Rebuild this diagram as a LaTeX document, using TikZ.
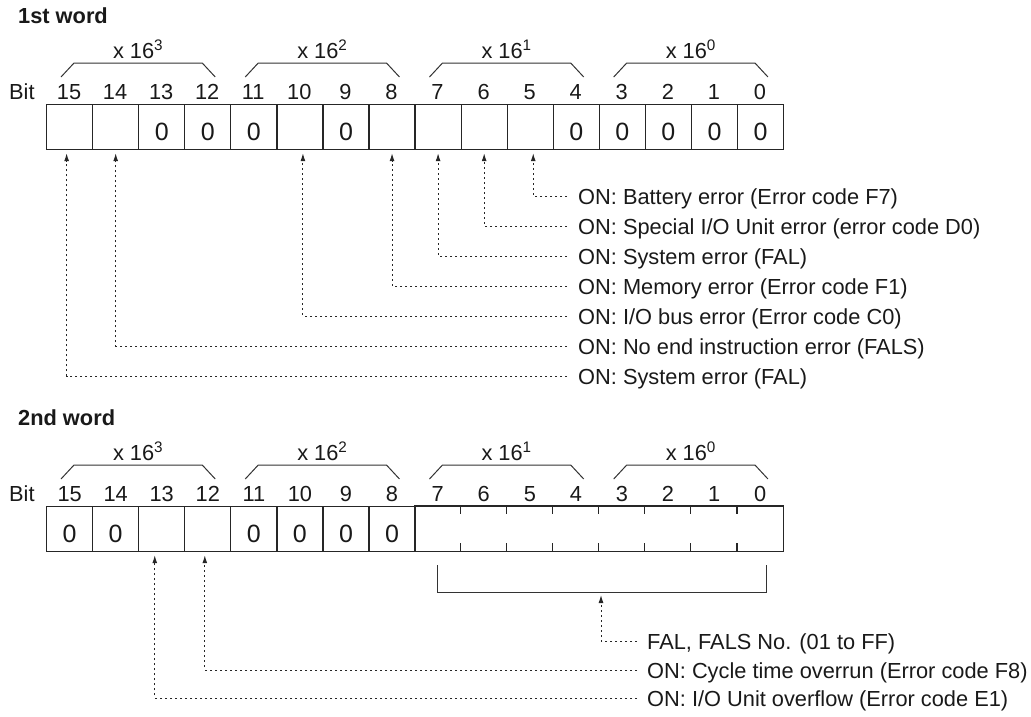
\documentclass[tikz,border=0pt]{standalone}
\usepackage{fontspec}
\setmainfont{Liberation Sans}
\usetikzlibrary{arrows.meta}
\begin{document}
\begin{tikzpicture}[x=1pt,y=-1pt,
  txt/.style={font=\fontsize{21.8}{26}\selectfont, text=black!90, inner sep=0pt},
  zerotxt/.style={font=\fontsize{25}{30}\selectfont, text=black!90, inner sep=0pt},
  headtxt/.style={font=\fontsize{21.8}{26}\selectfont\bfseries, text=black!90, inner sep=0pt},
  cellbox/.style={draw=black!85, line width=1.2pt, minimum width=46.06pt, minimum height=45pt, inner sep=0pt, anchor=north west},
  nocell/.style={minimum width=46.06pt, minimum height=45pt, inner sep=0pt, anchor=north west},
  frame/.style={draw=black!85, line width=1.2pt},
  lead/.style={draw=black!85, line width=1pt, dash pattern=on 2pt off 3pt},
  tip/.style={-{Latex[length=8pt,width=5pt]}},
  brace/.style={draw=black!80, line width=1pt},
]
\useasboundingbox (0,0) rectangle (1031,716);

% ---------------- 1st word ----------------
\node[headtxt, anchor=base west] (h1) at (18,23) {1st word};
\node[txt, anchor=base west] (bit1) at (9,99) {Bit};
\foreach \b in {15,...,0}{
  \pgfmathsetmacro\xx{46+(15-\b)*46.06}
  \node[cellbox] (a\b) at (\xx,104) {};
  \node[txt, anchor=base] (na\b) at (\xx+23.03,99) {\b};
}
\foreach \b in {13,12,11,9,4,3,2,1,0}{
  \node[zerotxt, anchor=base] (za\b) at ([yshift=-13.5pt]a\b.center) {0};
}
\foreach \g/\e in {0/3,1/2,2/1,3/0}{
  \pgfmathsetmacro\L{46+4*\g*46.06}
  \pgfmathsetmacro\R{\L+4*46.06}
  \draw[brace] (\L+15,77) -- (\L+28,63) -- (\R-28,63) -- (\R-15,77);
  \node[txt, anchor=base] (xa\g) at ({(\L+\R)/2},58) {x 16\textsuperscript{\e}};
}
\foreach \b/\yy/\sh/\t in {
  5/196/3/{ON: Battery error (Error code F7)},
  6/226/0/{ON: Special I/O Unit error (error code D0)},
  7/256/0/{ON: System error (FAL)},
  8/286/0/{ON: Memory error (Error code F1)},
  10/316/3/{ON: I/O bus error (Error code C0)},
  14/346/0/{ON: No end instruction error (FALS)},
  15/376/-3/{ON: System error (FAL)}}{
  \node[txt, anchor=base west] (ta\b) at (578,\yy+8) {\t};
  \coordinate (ea\b) at (567,\yy);
  \draw[lead,tip] (ea\b) -| ([xshift=\sh pt,yshift=-3pt]a\b.south);
}

% ---------------- 2nd word ----------------
\node[headtxt, anchor=base west] (h2) at (18,425) {2nd word};
\node[txt, anchor=base west] (bit2) at (9,501) {Bit};
\foreach \b in {15,...,8}{
  \pgfmathsetmacro\xx{46+(15-\b)*46.06}
  \node[cellbox] (b\b) at (\xx,506) {};
}
\foreach \b in {7,...,0}{
  \pgfmathsetmacro\xx{46+(15-\b)*46.06}
  \node[nocell] (b\b) at (\xx,506) {};
}
\foreach \b in {15,...,0}{
  \node[txt, anchor=base] (nb\b) at ([yshift=5pt]b\b.north) {\b};
}
\draw[frame] (b7.north west) rectangle (b0.south east);
\foreach \b in {6,...,0}{
  \draw[frame] (b\b.north west) -- ++(0,8);
  \draw[frame] (b\b.south west) -- ++(0,-8);
}
\foreach \b in {15,14,11,10,9,8}{
  \node[zerotxt, anchor=base] (zb\b) at ([yshift=-13.5pt]b\b.center) {0};
}
\foreach \g/\e in {0/3,1/2,2/1,3/0}{
  \pgfmathsetmacro\L{46+4*\g*46.06}
  \pgfmathsetmacro\R{\L+4*46.06}
  \draw[brace] (\L+15,479) -- (\L+28,465) -- (\R-28,465) -- (\R-15,479);
  \node[txt, anchor=base] (xb\g) at ({(\L+\R)/2},460) {x 16\textsuperscript{\e}};
}
% bracket under bits 7..0
\coordinate (brL) at (437,565);
\coordinate (brR) at (766,565);
\coordinate (brM) at (601,592);
\draw[brace] (brL) -- (437,592) -- (766,592) -- (brR);

\node[txt, anchor=base west] (tF) at (647,649) {FAL, FALS No. (01 to FF)};
\node[txt, anchor=base west] (tC) at (647,678) {ON: Cycle time overrun (Error code F8)};
\node[txt, anchor=base west] (tI) at (647,706) {ON: I/O Unit overflow (Error code E1)};
\coordinate (eF) at (637,641);
\coordinate (eC) at (637,670);
\coordinate (eI) at (637,698);
\draw[lead,tip] (eF) -| ([yshift=-3pt]brM);
\draw[lead,tip] (eC) -| ([xshift=-3pt,yshift=-3pt]b12.south);
\draw[lead,tip] (eI) -| ([xshift=-7pt,yshift=-3pt]b13.south);
\end{tikzpicture}
\end{document}
